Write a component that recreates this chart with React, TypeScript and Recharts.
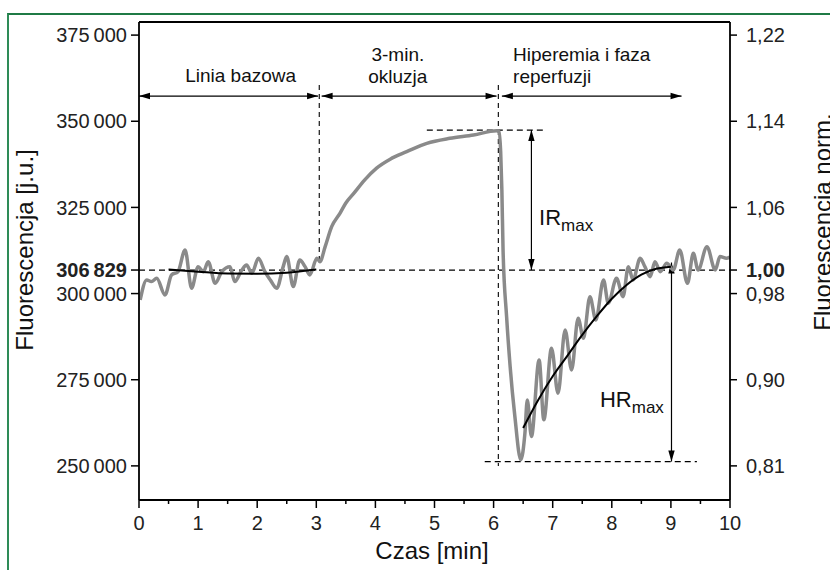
import React from 'react';
import { ComposedChart, Line, XAxis, YAxis, ReferenceLine, ReferenceDot, Label } from 'recharts';

const FONT = '"Liberation Sans", Arial, Helvetica, sans-serif';

// ---- data ----
const BASELINE_VALUE = 306829;
const Y_DOMAIN = [240100, 378800];
const X_DOMAIN = [0, 10];
const X_TICKS = [0, 0.5, 1, 1.5, 2, 2.5, 3, 3.5, 4, 4.5, 5, 5.5, 6, 6.5, 7, 7.5, 8, 8.5, 9, 9.5, 10];
const LEFT_TICKS = [250000, 275000, 300000, 306829, 325000, 350000, 375000];
const LEFT_TICK_LABELS = ['250\u2009000', '275\u2009000', '300\u2009000', '306\u2009829', '325\u2009000', '350\u2009000', '375\u2009000'];
const RIGHT_TICK_LABELS = ['0,81', '0,90', '0,98', '1,00', '1,06', '1,14', '1,22'];

// measured signal (gray)
const SIGNAL_T = [
  0.02, 0.13, 0.21, 0.30, 0.44, 0.55, 0.66, 0.78, 0.89, 1.00, 1.09, 1.17, 1.29, 1.40, 1.54, 1.62, 1.74, 1.82, 1.91, 2.02,
  2.13, 2.22, 2.33, 2.44, 2.50, 2.61, 2.72, 2.81, 2.89, 3.01, 3.06, 3.15, 3.26, 3.40, 3.50, 3.63, 3.82, 4.02, 4.25, 4.53, 4.87,
  5.26, 5.66, 6.05, 6.09, 6.12, 6.14, 6.16, 6.22, 6.28, 6.36, 6.46, 6.53, 6.57, 6.64, 6.77, 6.85, 6.98, 7.09, 7.21, 7.32,
  7.43, 7.52, 7.63, 7.73, 7.86, 7.94, 8.08, 8.19, 8.28, 8.36, 8.48, 8.56, 8.65, 8.73, 8.82, 8.93, 9.04, 9.15, 9.28, 9.38,
  9.46, 9.61, 9.75, 9.83, 9.94, 10.0,
];
const SIGNAL_V = [
  298150, 303950, 303470, 304430, 299600, 305400, 306360, 312650, 301540, 307810, 306360, 309260, 302990, 306360, 307810, 303470, 306850, 308300, 305890, 310240,
  306360, 304000, 301540, 307810, 310720, 302030, 309750, 307810, 305400, 310240, 309260, 313610, 319410, 323290, 326300, 329000, 333000, 336400, 339000, 341160, 343590,
  345040, 346000, 347250, 347000, 341000, 330000, 312650, 293310, 278810, 264310, 251750, 259490, 269150, 258510, 280750, 263350, 284140, 271090, 289450, 277850,
  292840, 287040, 299110, 292350, 303950, 297190, 304430, 299110, 307810, 303950, 310240, 307810, 304900, 309260, 306360, 308790, 306850, 312650, 302990, 311690,
  306850, 313610, 306850, 310720, 310240, 310620,
];

// baseline fit (black)
const FIT_BASE_T = [0.5, 1.0, 1.5, 2.0, 2.5, 3.0];
const FIT_BASE_V = [307000, 306350, 305800, 305750, 306050, 306950];

// recovery fit (black)
const FIT_REC_T = [6.5, 6.75, 7.0, 7.25, 7.5, 7.75, 8.0, 8.25, 8.5, 8.75, 9.0];
const FIT_REC_V = [261000, 269000, 276000, 282000, 288000, 293500, 298500, 302500, 305500, 307200, 307800];

// annotation levels
const PEAK_VALUE = 347450;
const MIN_VALUE = 251260;
const ARROW_ROW = 357310;

const toRows = (ts: number[], vs: number[]) => ts.map((t, i) => ({ t, v: vs[i] }));
const signalData = toRows(SIGNAL_T, SIGNAL_V);
const fitBaseData = toRows(FIT_BASE_T, FIT_BASE_V);
const fitRecData = toRows(FIT_REC_T, FIT_REC_V);

// ---- shapes ----
const makeArrow = (startHead: boolean, endHead: boolean) => (p: any) => {
  const { x1, y1, x2, y2 } = p;
  const dx = x2 - x1;
  const dy = y2 - y1;
  const len = Math.hypot(dx, dy) || 1;
  const ux = dx / len;
  const uy = dy / len;
  const L = 11;
  const W = 3.2;
  const head = (tx: number, ty: number, ax: number, ay: number) =>
    `${tx},${ty} ${tx - ax * L - ay * W},${ty - ay * L + ax * W} ${tx - ax * L + ay * W},${ty - ay * L - ax * W}`;
  return (
    <g>
      <line x1={x1} y1={y1} x2={x2} y2={y2} stroke="#000" strokeWidth={1.2} />
      {endHead && <polygon points={head(x2, y2, ux, uy)} fill="#000" />}
      {startHead && <polygon points={head(x1, y1, -ux, -uy)} fill="#000" />}
    </g>
  );
};
const arrowBoth = makeArrow(true, true);

const textShape = (label: string, anchor: string) => (p: any) => (
  <text x={p.cx} y={p.cy} textAnchor={anchor} fontSize={19} fontFamily={FONT} fill="#111">
    {label}
  </text>
);

const subShape = (main: string) => (p: any) => (
  <text x={p.cx} y={p.cy} textAnchor="start" fontSize={22} fontFamily={FONT} fill="#111">
    {main}
    <tspan dy={6} fontSize={17}>max</tspan>
  </text>
);

const LeftTick = (p: any) => {
  const { x, y, payload } = p;
  const i = LEFT_TICKS.indexOf(payload.value);
  const bold = payload.value === BASELINE_VALUE;
  return (
    <text x={x} y={y} dy="0.36em" textAnchor="end" fontSize={20} fontFamily={FONT} fontWeight={bold ? 'bold' : 'normal'} fill="#222">
      {LEFT_TICK_LABELS[i]}
    </text>
  );
};

const RightTick = (p: any) => {
  const { x, y, payload } = p;
  const i = LEFT_TICKS.indexOf(payload.value);
  const bold = payload.value === BASELINE_VALUE;
  return (
    <text x={x} y={y} dy="0.36em" textAnchor="start" fontSize={20} fontFamily={FONT} fontWeight={bold ? 'bold' : 'normal'} fill="#222">
      {RIGHT_TICK_LABELS[i]}
    </text>
  );
};

const XTick = (p: any) => {
  const { x, y, payload } = p;
  const v = payload.value;
  const major = Number.isInteger(v);
  return (
    <g>
      <line x1={x} x2={x} y1={y} y2={y + (major ? 8 : 4)} stroke="#000" strokeWidth={1.5} />
      {major && (
        <text x={x} y={y + 16} dy="0.71em" textAnchor="middle" fontSize={20} fontFamily={FONT} fill="#222">
          {String(v)}
        </text>
      )}
    </g>
  );
};

const XTitle = () => (
  <text x={432} y={559} textAnchor="middle" fontSize={24} fontFamily={FONT} fill="#111">
    Czas [min]
  </text>
);
const LeftTitle = () => (
  <text x={33} y={250} transform="rotate(-90 33 250)" textAnchor="middle" fontSize={24} fontFamily={FONT} fill="#111">
    Fluorescencja [j.u.]
  </text>
);
const RightTitle = () => (
  <text x={831} y={222} transform="rotate(-90 831 222)" textAnchor="middle" fontSize={24} fontFamily={FONT} fill="#111">
    Fluorescencja norm.
  </text>
);

const dashH = { stroke: '#000', strokeWidth: 1.3, strokeDasharray: '6 4' };
const dashV = { stroke: '#000', strokeWidth: 1.1, strokeDasharray: '5 4' };

export default function App() {
  return (
    <div style={{ position: 'fixed', left: 0, top: 0, width: 830, height: 570, overflow: 'hidden', background: '#fff' }}>
      <div
        style={{
          position: 'absolute',
          left: 7,
          top: 13,
          width: 900,
          height: 700,
          borderLeft: '2px solid #2e8b57',
          borderTop: '2px solid #1f7a45',
        }}
      />
      <div style={{ position: 'absolute', left: 0, top: 0 }}>
        <ComposedChart width={830} height={570} margin={{ top: 22, right: 10, bottom: 30, left: 8 }}>
          <XAxis
            dataKey="t"
            type="number"
            domain={X_DOMAIN}
            ticks={X_TICKS}
            interval={0}
            tick={<XTick />}
            tickLine={false}
            tickSize={0}
            tickMargin={0}
            height={40}
            axisLine={{ stroke: '#000', strokeWidth: 1.8 }}
            allowDataOverflow
          >
            <Label content={<XTitle />} />
          </XAxis>
          <YAxis
            type="number"
            domain={Y_DOMAIN}
            ticks={LEFT_TICKS}
            interval={0}
            tick={<LeftTick />}
            tickSize={8}
            tickMargin={4}
            tickLine={{ stroke: '#000', strokeWidth: 1.5 }}
            width={131}
            axisLine={{ stroke: '#000', strokeWidth: 1.8 }}
            allowDataOverflow
          >
            <Label content={<LeftTitle />} />
          </YAxis>
          <YAxis
            yAxisId="right"
            orientation="right"
            type="number"
            domain={Y_DOMAIN}
            ticks={LEFT_TICKS}
            interval={0}
            tick={<RightTick />}
            tickSize={7}
            tickMargin={9}
            tickLine={{ stroke: '#000', strokeWidth: 1.5 }}
            width={90}
            axisLine={{ stroke: '#000', strokeWidth: 1.8 }}
            allowDataOverflow
          >
            <Label content={<RightTitle />} />
          </YAxis>

          {/* top frame */}
          <ReferenceLine y={Y_DOMAIN[1]} stroke="#000" strokeWidth={1.8} />

          {/* dashed guides */}
          <ReferenceLine y={BASELINE_VALUE} {...dashH} />
          <ReferenceLine segment={[{ x: 4.87, y: PEAK_VALUE }, { x: 6.9, y: PEAK_VALUE }]} {...dashH} />
          <ReferenceLine segment={[{ x: 5.85, y: MIN_VALUE }, { x: 9.44, y: MIN_VALUE }]} {...dashH} />
          <ReferenceLine segment={[{ x: 3.05, y: 360500 }, { x: 3.05, y: 309170 }]} {...dashV} />
          <ReferenceLine segment={[{ x: 6.08, y: 360500 }, { x: 6.08, y: 250000 }]} {...dashV} />

          {/* phase arrows */}
          <ReferenceLine segment={[{ x: 0, y: ARROW_ROW }, { x: 3.03, y: ARROW_ROW }]} shape={arrowBoth} />
          <ReferenceLine segment={[{ x: 3.09, y: ARROW_ROW }, { x: 6.05, y: ARROW_ROW }]} shape={arrowBoth} />
          <ReferenceLine segment={[{ x: 6.14, y: ARROW_ROW }, { x: 9.18, y: ARROW_ROW }]} shape={arrowBoth} />

          {/* IR / HR arrows */}
          <ReferenceLine segment={[{ x: 6.64, y: PEAK_VALUE }, { x: 6.64, y: BASELINE_VALUE }]} shape={arrowBoth} />
          <ReferenceLine segment={[{ x: 9.01, y: MIN_VALUE }, { x: 9.01, y: 309000 }]} shape={arrowBoth} />

          <Line data={signalData} dataKey="v" type="monotone" stroke="#8a8a8a" strokeWidth={3.5} dot={false} isAnimationActive={false} />
          <Line data={fitBaseData} dataKey="v" type="monotone" stroke="#000" strokeWidth={2} dot={false} isAnimationActive={false} />
          <Line data={fitRecData} dataKey="v" type="monotone" stroke="#000" strokeWidth={2} dot={false} isAnimationActive={false} />

          {/* texts */}
          <ReferenceDot x={1.72} y={361515} r={0} shape={textShape('Linia bazowa', 'middle')} />
          <ReferenceDot x={4.38} y={367460} r={0} shape={textShape('3-min.', 'middle')} />
          <ReferenceDot x={4.38} y={361080} r={0} shape={textShape('okluzja', 'middle')} />
          <ReferenceDot x={6.33} y={367460} r={0} shape={textShape('Hiperemia i faza', 'start')} />
          <ReferenceDot x={6.33} y={361080} r={0} shape={textShape('reperfuzji', 'start')} />
          <ReferenceDot x={6.77} y={319900} r={0} shape={subShape('IR')} />
          <ReferenceDot x={7.8} y={267120} r={0} shape={subShape('HR')} />
        </ComposedChart>
      </div>
    </div>
  );
}
